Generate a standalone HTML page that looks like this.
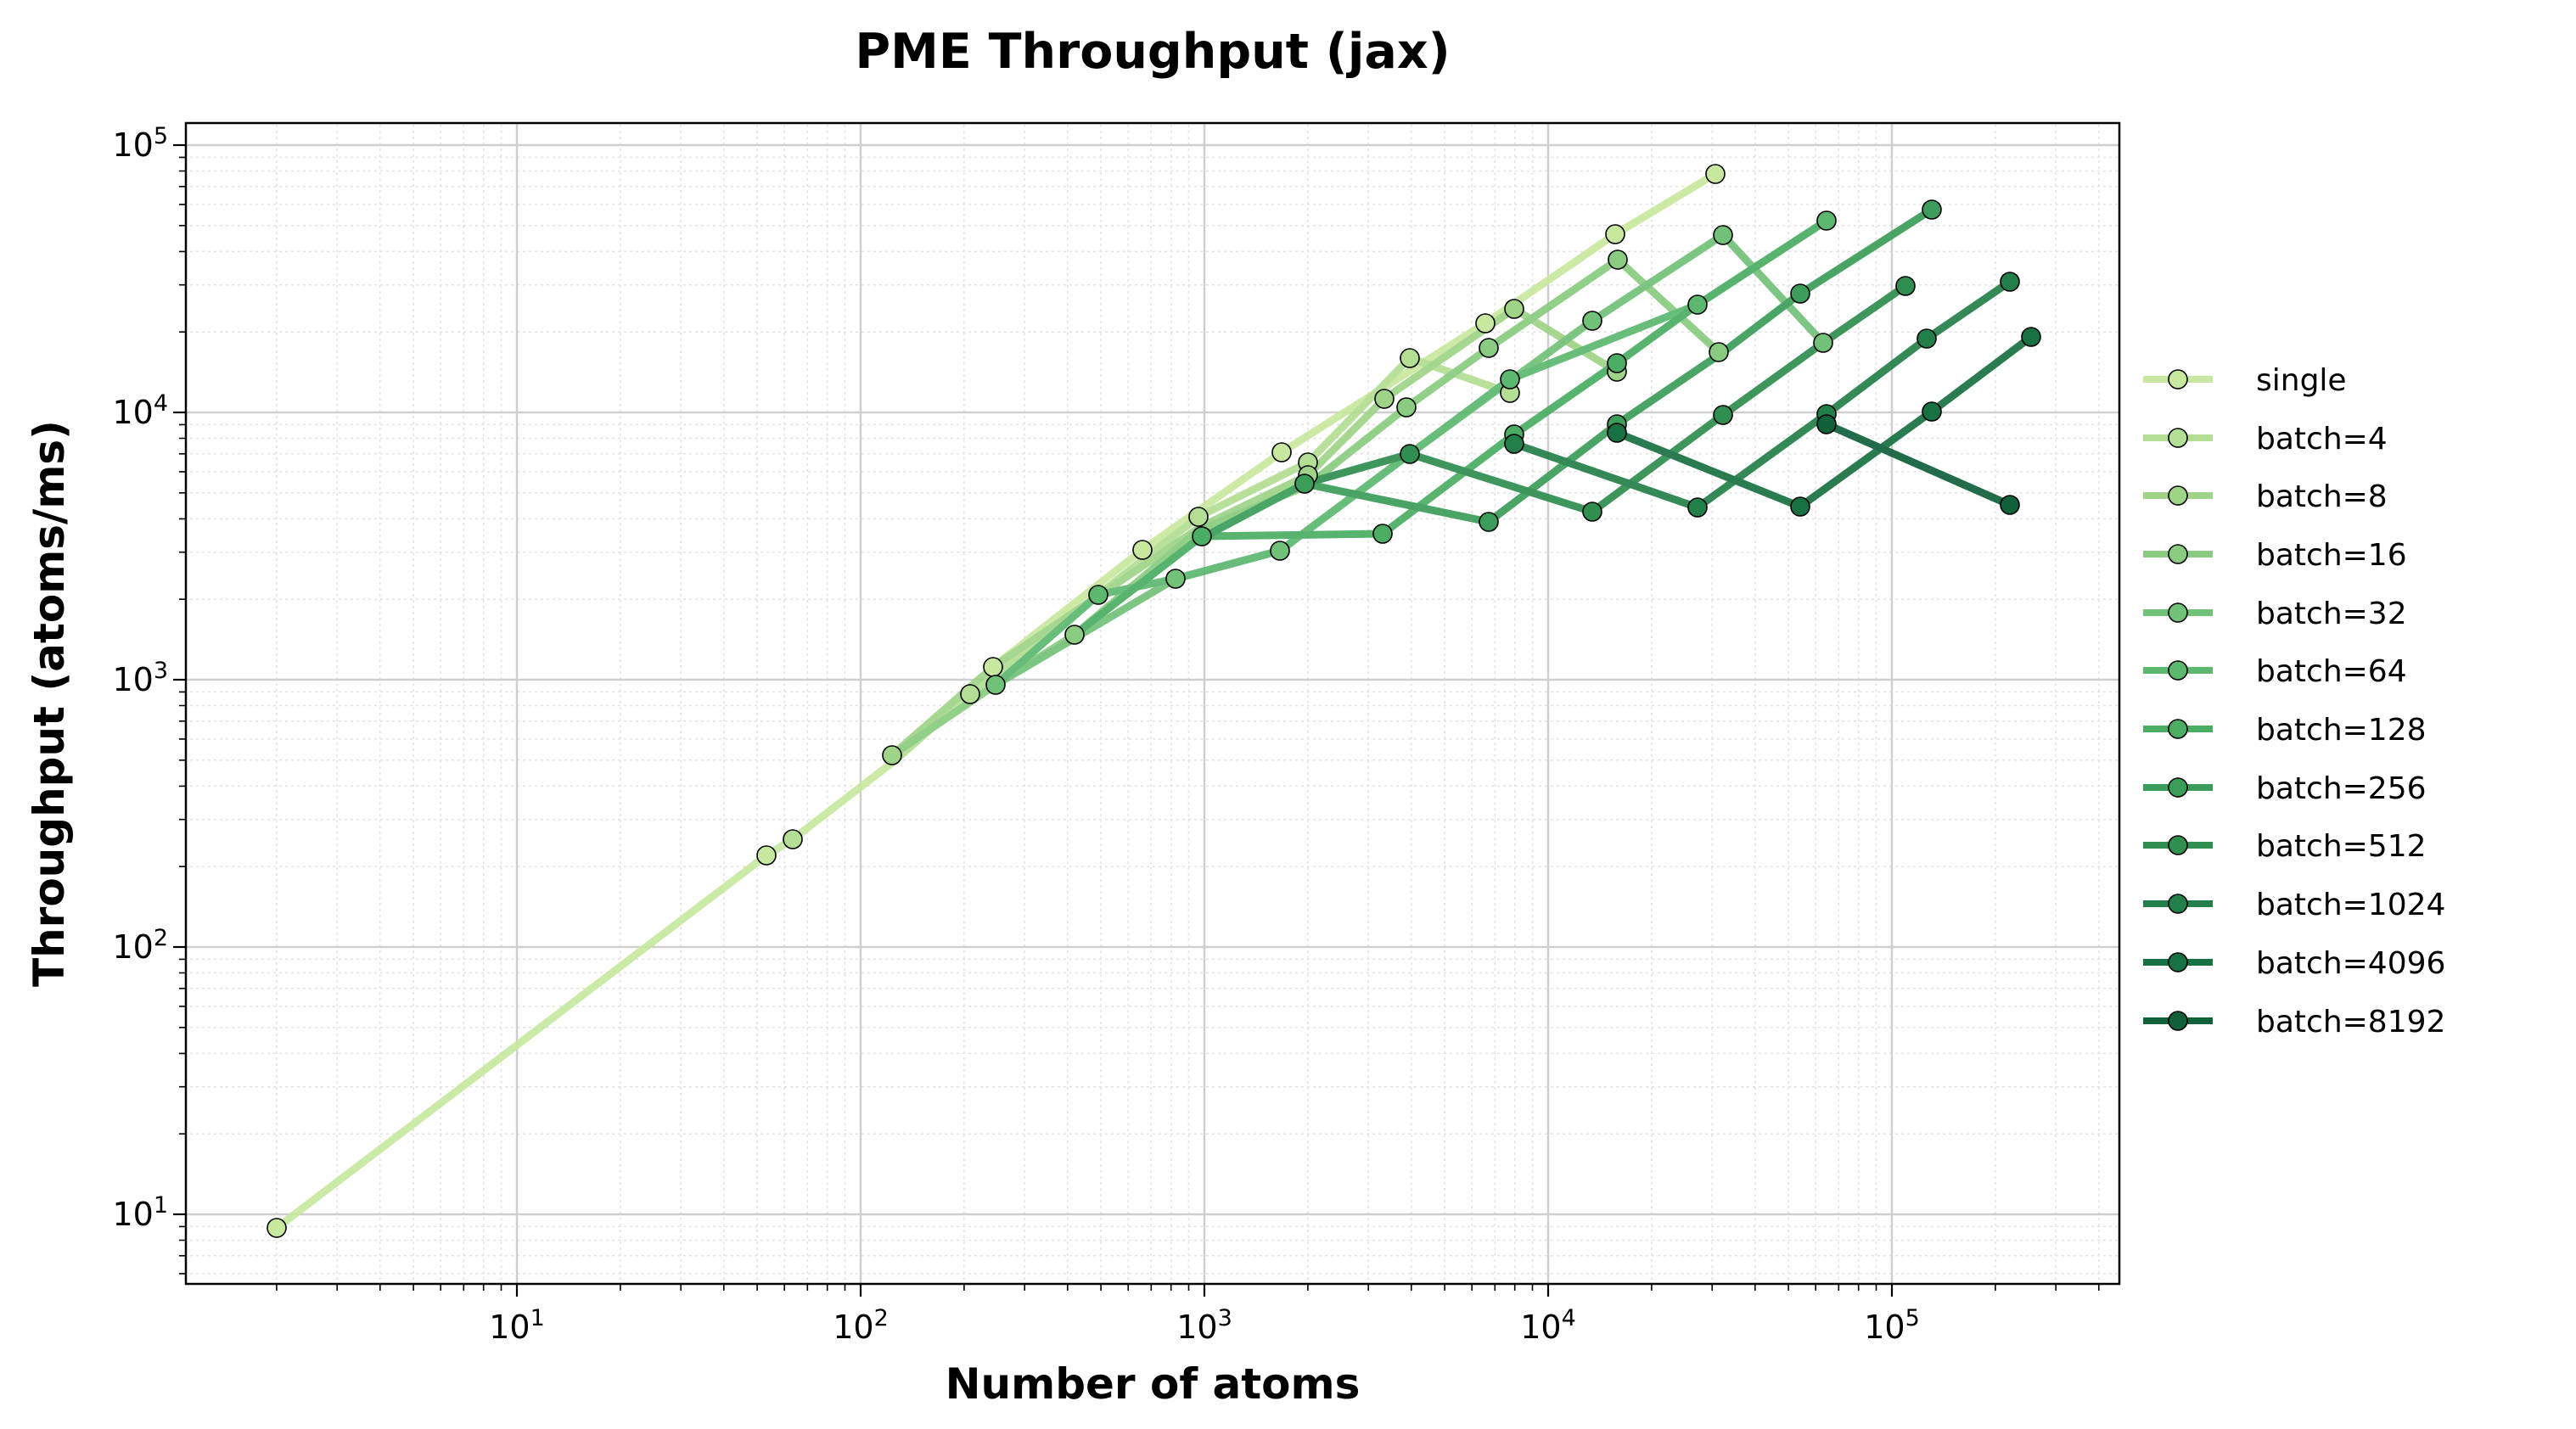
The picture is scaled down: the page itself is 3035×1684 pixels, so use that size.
<!DOCTYPE html>
<html><head><meta charset="utf-8"><style>
html,body{margin:0;padding:0;background:#fff;}
svg{display:block;font-family:"DejaVu Sans","Liberation Sans",sans-serif;}
</style></head><body>
<svg width="3035" height="1684" viewBox="0 0 3035 1684" xmlns="http://www.w3.org/2000/svg">
<defs>
<pattern id="gx" patternUnits="userSpaceOnUse" x="204" y="0" width="405" height="2000">
<g stroke="#e2e2e2" stroke-width="1.5" stroke-dasharray="3,4">
<line x1="121.9" y1="0" x2="121.9" y2="2000"/><line x1="193.2" y1="0" x2="193.2" y2="2000"/>
<line x1="243.8" y1="0" x2="243.8" y2="2000"/><line x1="283.1" y1="0" x2="283.1" y2="2000"/>
<line x1="315.2" y1="0" x2="315.2" y2="2000"/><line x1="342.3" y1="0" x2="342.3" y2="2000"/>
<line x1="365.7" y1="0" x2="365.7" y2="2000"/><line x1="386.5" y1="0" x2="386.5" y2="2000"/>
</g></pattern>
<pattern id="gy" patternUnits="userSpaceOnUse" x="0" y="171" width="3035" height="315">
<g stroke="#e2e2e2" stroke-width="1.5" stroke-dasharray="3,4">
<line y1="220.2" x1="0" y2="220.2" x2="3035"/><line y1="164.7" x1="0" y2="164.7" x2="3035"/>
<line y1="125.4" x1="0" y2="125.4" x2="3035"/><line y1="94.8" x1="0" y2="94.8" x2="3035"/>
<line y1="69.9" x1="0" y2="69.9" x2="3035"/><line y1="48.8" x1="0" y2="48.8" x2="3035"/>
<line y1="30.5" x1="0" y2="30.5" x2="3035"/><line y1="14.4" x1="0" y2="14.4" x2="3035"/>
</g></pattern>
<pattern id="tx" patternUnits="userSpaceOnUse" x="204" y="0" width="405" height="2000">
<g stroke="#000" stroke-width="1.6">
<line x1="121.9" y1="0" x2="121.9" y2="2000"/><line x1="193.2" y1="0" x2="193.2" y2="2000"/>
<line x1="243.8" y1="0" x2="243.8" y2="2000"/><line x1="283.1" y1="0" x2="283.1" y2="2000"/>
<line x1="315.2" y1="0" x2="315.2" y2="2000"/><line x1="342.3" y1="0" x2="342.3" y2="2000"/>
<line x1="365.7" y1="0" x2="365.7" y2="2000"/><line x1="386.5" y1="0" x2="386.5" y2="2000"/>
</g></pattern>
<pattern id="ty" patternUnits="userSpaceOnUse" x="0" y="171" width="3035" height="315">
<g stroke="#000" stroke-width="1.6">
<line y1="220.2" x1="0" y2="220.2" x2="3035"/><line y1="164.7" x1="0" y2="164.7" x2="3035"/>
<line y1="125.4" x1="0" y2="125.4" x2="3035"/><line y1="94.8" x1="0" y2="94.8" x2="3035"/>
<line y1="69.9" x1="0" y2="69.9" x2="3035"/><line y1="48.8" x1="0" y2="48.8" x2="3035"/>
<line y1="30.5" x1="0" y2="30.5" x2="3035"/><line y1="14.4" x1="0" y2="14.4" x2="3035"/>
</g></pattern>
<clipPath id="cp"><rect x="219" y="145" width="2278" height="1368"/></clipPath>
</defs>
<rect width="3035" height="1684" fill="#fff"/>
<rect x="219" y="145" width="2278" height="1368" fill="url(#gx)"/>
<rect x="219" y="145" width="2278" height="1368" fill="url(#gy)"/>
<g stroke="#cfcfcf" stroke-width="2.5">
<line x1="609" y1="145" x2="609" y2="1513"/><line x1="1014" y1="145" x2="1014" y2="1513"/>
<line x1="1419" y1="145" x2="1419" y2="1513"/><line x1="1824" y1="145" x2="1824" y2="1513"/>
<line x1="2229" y1="145" x2="2229" y2="1513"/>
<line x1="219" y1="171" x2="2497" y2="171"/><line x1="219" y1="486" x2="2497" y2="486"/>
<line x1="219" y1="801" x2="2497" y2="801"/><line x1="219" y1="1116" x2="2497" y2="1116"/>
<line x1="219" y1="1431" x2="2497" y2="1431"/>
</g>
<g clip-path="url(#cp)" fill="none" stroke-width="9" stroke-linejoin="round" stroke-linecap="round" opacity="0.92">
<polyline stroke="#c8e89f" points="326,1447 903,1008 934,989 1056,895 1170,786 1346,648 1510,533 1750,381 1903,276 2021,205"/>
<polyline stroke="#b4de93" points="1056,895 1143,818 1412,609 1541,545 1661,422 1779,463"/>
<polyline stroke="#9fd488" points="1051,890 1170,786 1416,620 1541,560 1631,470 1784,364 1905,438"/>
<polyline stroke="#89cb80" points="1051,890 1173,807 1266,748 1412,625 1541,572 1657,480 1754,410 1906,306 2025,415"/>
<polyline stroke="#72c179" points="1173,807 1385,682 1508,649 1661,535 1876,378 2030,277 2148,404"/>
<polyline stroke="#5cb86f" points="1173,807 1294,701 1385,682 1508,649 1779,447 2000,359 2152,260"/>
<polyline stroke="#4aad63" points="1266,748 1416,632 1629,629 1784,512 1905,428 2000,359 2152,260"/>
<polyline stroke="#3b9d59" points="1416,634 1537,570 1754,615 1905,500 2030,415 2121,346 2276,247"/>
<polyline stroke="#2f8e50" points="1537,570 1661,535 1876,603 2030,489 2148,404 2245,337"/>
<polyline stroke="#237f49" points="1784,523 2000,598 2152,488 2270,399 2368,332"/>
<polyline stroke="#187142" points="1905,510 2121,597 2276,485 2393,397"/>
<polyline stroke="#10603a" points="2152,500 2368,595"/>
</g>
<g stroke="#000" stroke-width="1.6" clip-path="url(#cp)">
<g fill="#c8e89f"><circle cx="326" cy="1447" r="11"/><circle cx="903" cy="1008" r="11"/><circle cx="1170" cy="786" r="11"/><circle cx="1346" cy="648" r="11"/><circle cx="1510" cy="533" r="11"/><circle cx="1750" cy="381" r="11"/><circle cx="1903" cy="276" r="11"/><circle cx="2021" cy="205" r="11"/></g>
<g fill="#b4de93"><circle cx="934" cy="989" r="11"/><circle cx="1143" cy="818" r="11"/><circle cx="1412" cy="609" r="11"/><circle cx="1541" cy="545" r="11"/><circle cx="1661" cy="422" r="11"/><circle cx="1779" cy="463" r="11"/></g>
<g fill="#9fd488"><circle cx="1051" cy="890" r="11"/><circle cx="1541" cy="560" r="11"/><circle cx="1631" cy="470" r="11"/><circle cx="1784" cy="364" r="11"/><circle cx="1905" cy="438" r="11"/></g>
<g fill="#89cb80"><circle cx="1266" cy="748" r="11"/><circle cx="1657" cy="480" r="11"/><circle cx="1754" cy="410" r="11"/><circle cx="1906" cy="306" r="11"/><circle cx="2025" cy="415" r="11"/></g>
<g fill="#72c179"><circle cx="1173" cy="807" r="11"/><circle cx="1385" cy="682" r="11"/><circle cx="1508" cy="649" r="11"/><circle cx="1876" cy="378" r="11"/><circle cx="2030" cy="277" r="11"/><circle cx="2148" cy="404" r="11"/></g>
<g fill="#5cb86f"><circle cx="1294" cy="701" r="11"/><circle cx="1779" cy="447" r="11"/><circle cx="2000" cy="359" r="11"/><circle cx="2152" cy="260" r="11"/></g>
<g fill="#4aad63"><circle cx="1416" cy="632" r="11"/><circle cx="1629" cy="629" r="11"/><circle cx="1784" cy="512" r="11"/><circle cx="1905" cy="428" r="11"/></g>
<g fill="#3b9d59"><circle cx="1537" cy="570" r="11"/><circle cx="1754" cy="615" r="11"/><circle cx="1905" cy="500" r="11"/><circle cx="2121" cy="346" r="11"/><circle cx="2276" cy="247" r="11"/></g>
<g fill="#2f8e50"><circle cx="1661" cy="535" r="11"/><circle cx="1876" cy="603" r="11"/><circle cx="2030" cy="489" r="11"/><circle cx="2245" cy="337" r="11"/></g>
<g fill="#237f49"><circle cx="1784" cy="523" r="11"/><circle cx="2000" cy="598" r="11"/><circle cx="2152" cy="488" r="11"/><circle cx="2270" cy="399" r="11"/><circle cx="2368" cy="332" r="11"/></g>
<g fill="#187142"><circle cx="1905" cy="510" r="11"/><circle cx="2121" cy="597" r="11"/><circle cx="2276" cy="485" r="11"/><circle cx="2393" cy="397" r="11"/></g>
<g fill="#10603a"><circle cx="2152" cy="500" r="11"/><circle cx="2368" cy="595" r="11"/></g>
</g>
<rect x="219" y="1513" width="2278" height="8" fill="url(#tx)"/>
<rect x="211" y="145" width="8" height="1368" fill="url(#ty)"/>
<rect x="219" y="145" width="2278" height="1368" fill="none" stroke="#000" stroke-width="2.5"/>
<g stroke="#000" stroke-width="2.2">
<line x1="609" y1="1513" x2="609" y2="1528"/><line x1="1014" y1="1513" x2="1014" y2="1528"/>
<line x1="1419" y1="1513" x2="1419" y2="1528"/><line x1="1824" y1="1513" x2="1824" y2="1528"/>
<line x1="2229" y1="1513" x2="2229" y2="1528"/>
<line x1="204" y1="171" x2="219" y2="171"/><line x1="204" y1="486" x2="219" y2="486"/>
<line x1="204" y1="801" x2="219" y2="801"/><line x1="204" y1="1116" x2="219" y2="1116"/>
<line x1="204" y1="1431" x2="219" y2="1431"/>
</g>
<g font-size="38" fill="#000">
<g text-anchor="middle">
<text x="609" y="1577">10<tspan dy="-15" font-size="27">1</tspan></text>
<text x="1014" y="1577">10<tspan dy="-15" font-size="27">2</tspan></text>
<text x="1419" y="1577">10<tspan dy="-15" font-size="27">3</tspan></text>
<text x="1824" y="1577">10<tspan dy="-15" font-size="27">4</tspan></text>
<text x="2229" y="1577">10<tspan dy="-15" font-size="27">5</tspan></text>
</g>
<g text-anchor="end">
<text x="198" y="184">10<tspan dy="-15" font-size="27">5</tspan></text>
<text x="198" y="499">10<tspan dy="-15" font-size="27">4</tspan></text>
<text x="198" y="814">10<tspan dy="-15" font-size="27">3</tspan></text>
<text x="198" y="1129">10<tspan dy="-15" font-size="27">2</tspan></text>
<text x="198" y="1444">10<tspan dy="-15" font-size="27">1</tspan></text>
</g>
</g>
<text x="1358" y="80" text-anchor="middle" font-size="57" font-weight="bold">PME Throughput (jax)</text>
<text x="1358" y="1648" text-anchor="middle" font-size="50" font-weight="bold">Number of atoms</text>
<text transform="translate(75,829) rotate(-90)" text-anchor="middle" font-size="50" font-weight="bold">Throughput (atoms/ms)</text>
<g font-size="36" fill="#000">
<g stroke-width="8"><line x1="2525" y1="447" x2="2607" y2="447" stroke="#c8e89f"/><line x1="2525" y1="516" x2="2607" y2="516" stroke="#b4de93"/><line x1="2525" y1="584" x2="2607" y2="584" stroke="#9fd488"/><line x1="2525" y1="653" x2="2607" y2="653" stroke="#89cb80"/><line x1="2525" y1="722" x2="2607" y2="722" stroke="#72c179"/><line x1="2525" y1="790" x2="2607" y2="790" stroke="#5cb86f"/><line x1="2525" y1="859" x2="2607" y2="859" stroke="#4aad63"/><line x1="2525" y1="928" x2="2607" y2="928" stroke="#3b9d59"/><line x1="2525" y1="996" x2="2607" y2="996" stroke="#2f8e50"/><line x1="2525" y1="1065" x2="2607" y2="1065" stroke="#237f49"/><line x1="2525" y1="1134" x2="2607" y2="1134" stroke="#187142"/><line x1="2525" y1="1203" x2="2607" y2="1203" stroke="#10603a"/></g>
<g stroke="#000" stroke-width="1.6"><circle cx="2566" cy="447" r="11" fill="#c8e89f"/><circle cx="2566" cy="516" r="11" fill="#b4de93"/><circle cx="2566" cy="584" r="11" fill="#9fd488"/><circle cx="2566" cy="653" r="11" fill="#89cb80"/><circle cx="2566" cy="722" r="11" fill="#72c179"/><circle cx="2566" cy="790" r="11" fill="#5cb86f"/><circle cx="2566" cy="859" r="11" fill="#4aad63"/><circle cx="2566" cy="928" r="11" fill="#3b9d59"/><circle cx="2566" cy="996" r="11" fill="#2f8e50"/><circle cx="2566" cy="1065" r="11" fill="#237f49"/><circle cx="2566" cy="1134" r="11" fill="#187142"/><circle cx="2566" cy="1203" r="11" fill="#10603a"/></g>
<text x="2658" y="460">single</text><text x="2658" y="529">batch=4</text><text x="2658" y="597">batch=8</text><text x="2658" y="666">batch=16</text><text x="2658" y="735">batch=32</text><text x="2658" y="803">batch=64</text><text x="2658" y="872">batch=128</text><text x="2658" y="941">batch=256</text><text x="2658" y="1009">batch=512</text><text x="2658" y="1078">batch=1024</text><text x="2658" y="1147">batch=4096</text><text x="2658" y="1216">batch=8192</text>
</g>
</svg>
</body></html>
